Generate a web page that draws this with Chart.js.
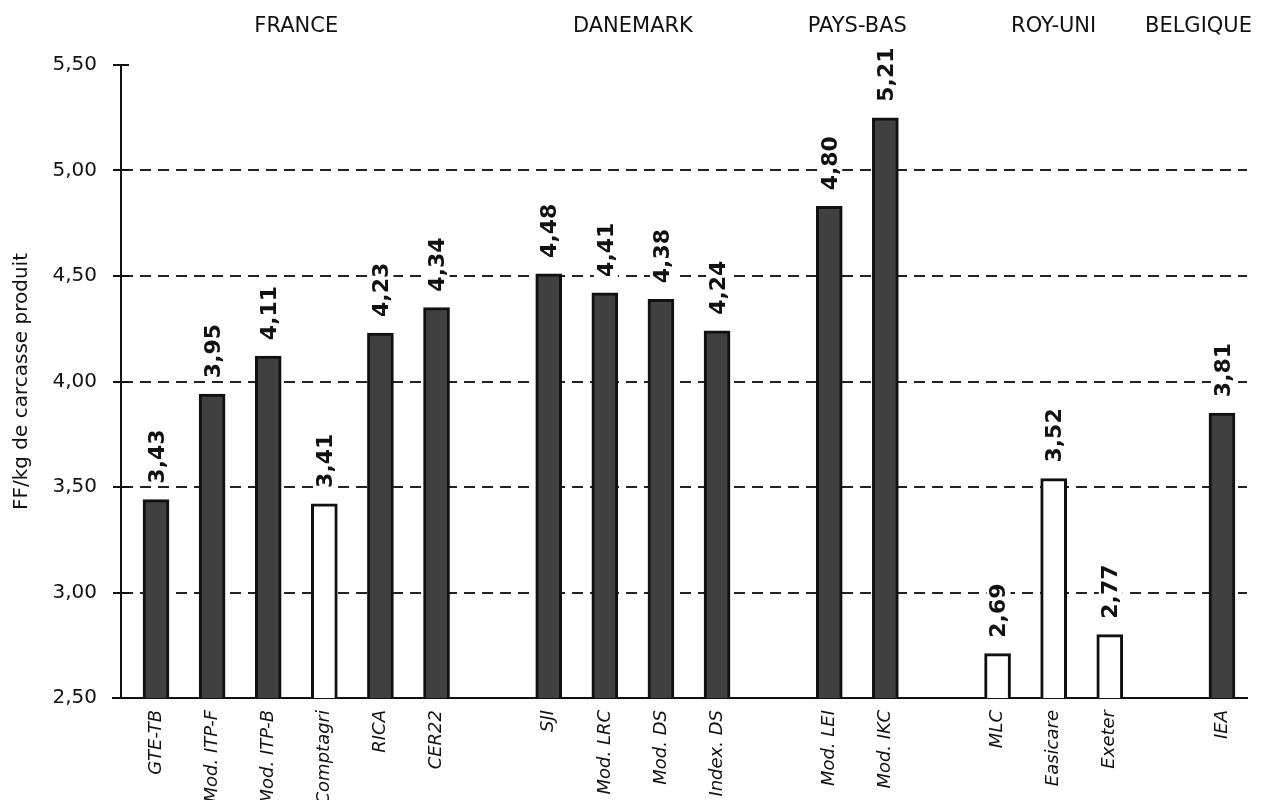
<!DOCTYPE html>
<html>
<head>
<meta charset="utf-8">
<script src="https://cdn.jsdelivr.net/npm/chart.js@4"></script>
<style>html,body{margin:0;padding:0;background:#fff}</style>
</head>
<body>
<canvas id="myChart" width="1264" height="800"></canvas>
<script>
// sources, with an empty slot between countries
var categories = ['GTE-TB', 'Mod. ITP-F', 'Mod. ITP-B', 'Comptagri', 'RICA', 'CER22', '',
  'SJI', 'Mod. LRC', 'Mod. DS', 'Index. DS', '',
  'Mod. LEI', 'Mod. IKC', '',
  'MLC', 'Easicare', 'Exeter', '',
  'IEA'];
var countries = ['FRANCE', 'FRANCE', 'FRANCE', 'FRANCE', 'FRANCE', 'FRANCE', '',
  'DANEMARK', 'DANEMARK', 'DANEMARK', 'DANEMARK', '',
  'PAYS-BAS', 'PAYS-BAS', '',
  'ROY-UNI', 'ROY-UNI', 'ROY-UNI', '',
  'BELGIQUE'];
// bar heights as drawn (FF/kg de carcasse produit)
var barValues = [3.44, 3.94, 4.12, 3.42, 4.23, 4.35, null,
  4.51, 4.42, 4.39, 4.24, null,
  4.83, 5.25, null,
  2.71, 3.54, 2.80, null,
  3.85];
// printed labels above the bars
var valueLabels = ['3,43', '3,95', '4,11', '3,41', '4,23', '4,34', '',
  '4,48', '4,41', '4,38', '4,24', '',
  '4,80', '5,21', '',
  '2,69', '3,52', '2,77', '',
  '3,81'];
// sources drawn as open (white) bars
var openSources = ['Comptagri', 'MLC', 'Easicare', 'Exeter'];
var yTicks = [2.5, 3.0, 3.5, 4.0, 4.5, 5.0, 5.5];

var points = [];
for (var i = 0; i < barValues.length; i++) {
  if (barValues[i] !== null) points.push({ x: i, y: barValues[i] });
}

var fontName = '"DejaVu Sans", sans-serif';

var labelsPlugin = {
  id: 'labels',
  afterDatasetsDraw: function(chart) {
    var c = chart.ctx;
    var meta = chart.getDatasetMeta(0);
    var xs = chart.scales.x, ys = chart.scales.y;
    var area = chart.chartArea;
    c.save();

    // value labels, rotated, on a white patch
    c.font = 'bold 22px ' + fontName;
    meta.data.forEach(function(bar, j) {
      var txt = valueLabels[points[j].x];
      var w = c.measureText(txt).width;
      c.save();
      c.translate(bar.x + 1, bar.y - 16);
      c.rotate(-Math.PI / 2);
      c.fillStyle = '#fff';
      c.fillRect(-2, -12, w + 4, 24);
      c.fillStyle = '#111';
      c.textAlign = 'left';
      c.textBaseline = 'middle';
      c.fillText(txt, 0, 1);
      c.restore();
    });

    // y tick marks crossing the axis, x axis stub to the left
    c.strokeStyle = '#111';
    c.lineWidth = 2;
    yTicks.forEach(function(v) {
      var py = Math.round(ys.getPixelForValue(v));
      c.beginPath();
      c.moveTo(area.left, py);
      c.lineTo(area.left + 8, py);
      c.stroke();
    });
    c.beginPath();
    c.moveTo(area.left - 9, Math.round(area.bottom));
    c.lineTo(area.left, Math.round(area.bottom));
    c.stroke();

    // country names on top
    c.font = '21px ' + fontName;
    c.fillStyle = '#111';
    c.textAlign = 'center';
    c.textBaseline = 'middle';
    var done = {};
    countries.forEach(function(name) {
      if (!name || done[name]) return;
      done[name] = true;
      var sum = 0, n = 0;
      countries.forEach(function(cn, k) {
        if (cn === name) { sum += xs.getPixelForValue(k); n++; }
      });
      var cx = sum / n;
      var w = c.measureText(name).width;
      cx = Math.min(cx, chart.width - 12 - w / 2);
      c.fillText(name, cx, 27);
    });
    c.restore();
  }
};

var ctx = document.getElementById('myChart').getContext('2d');
var myChart = new Chart(ctx, {
  type: 'bar',
  data: {
    datasets: [{
      data: points,
      backgroundColor: function(c) {
        var p = c.raw;
        return p && openSources.indexOf(categories[p.x]) >= 0 ? '#ffffff' : '#404040';
      },
      borderColor: '#111',
      borderWidth: 3,
      borderSkipped: false,
      barThickness: 26
    }]
  },
  options: {
    responsive: false,
    animation: false,
    layout: { padding: { left: 0, top: 65, right: 17, bottom: 0 } },
    plugins: { legend: { display: false }, tooltip: { enabled: false } },
    scales: {
      x: {
        type: 'linear',
        offset: false,
        min: -0.624,
        max: 19.446,
        afterBuildTicks: function(s) {
          s.ticks = categories.map(function(c, i) { return { value: i }; });
        },
        afterFit: function(s) { s.height = 102; },
        grid: { display: false, drawTicks: false },
        border: { display: true, color: '#111', width: 2 },
        ticks: {
          autoSkip: false,
          maxRotation: 90,
          minRotation: 90,
          padding: 12,
          color: '#111',
          font: { family: fontName, size: 18, style: 'italic' },
          callback: function(v) { return categories[v] || ''; }
        }
      },
      y: {
        min: 2.5,
        max: 5.5,
        afterBuildTicks: function(s) {
          s.ticks = yTicks.map(function(v) { return { value: v }; });
        },
        afterFit: function(s) { s.width = 121; },
        grid: {
          color: function(c) {
            return c.tick && c.tick.value > 2.5 && c.tick.value < 5.5 ? '#222' : 'rgba(0,0,0,0)';
          },
          lineWidth: 2,
          tickLength: 8,
          tickColor: '#111',
          tickWidth: 2,
          tickBorderDash: []
        },
        border: { color: '#111', width: 2, dash: [11, 7] },
        ticks: {
          padding: 16,
          color: '#111',
          font: { family: fontName, size: 20 },
          callback: function(v) { return v.toFixed(2).replace('.', ','); }
        },
        title: {
          display: true,
          text: 'FF/kg de carcasse produit',
          color: '#111',
          font: { family: fontName, size: 20 },
          padding: { top: 10, bottom: 0 }
        }
      }
    }
  },
  plugins: [labelsPlugin]
});
</script>
</body>
</html>
